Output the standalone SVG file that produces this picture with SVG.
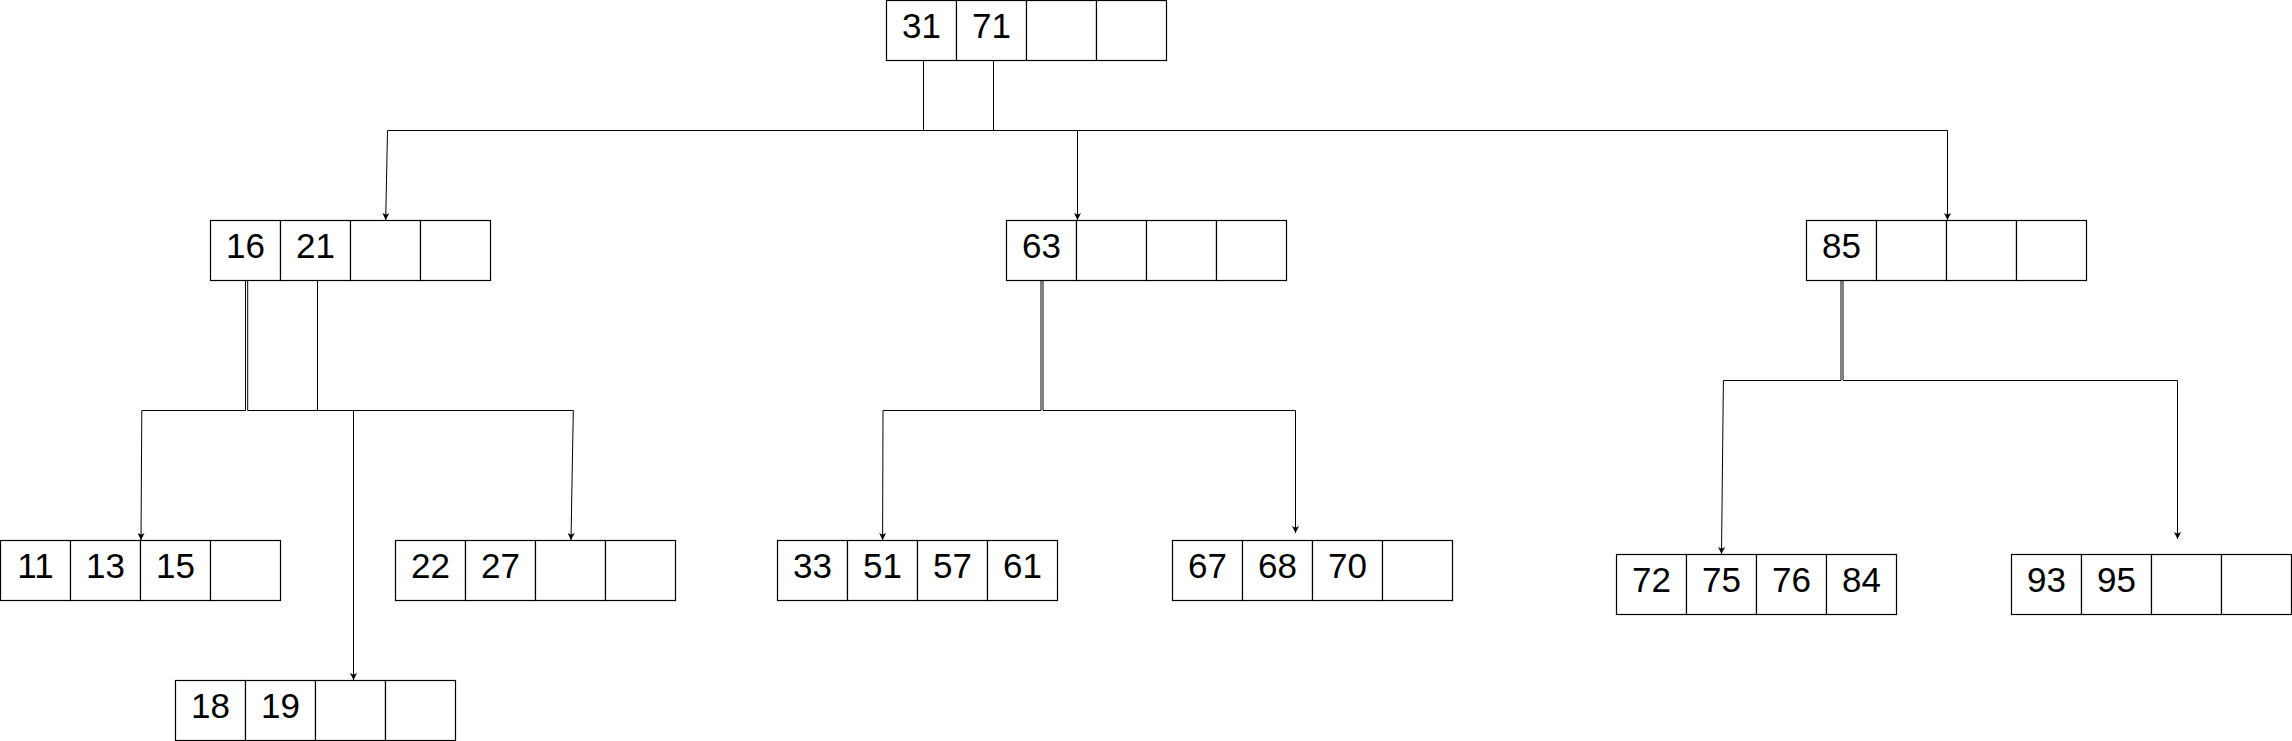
<svg xmlns="http://www.w3.org/2000/svg" width="2292" height="741" viewBox="0 0 2292 741">
<style>
.c{fill:#fff;stroke:#000;stroke-width:1.2}
.t{font-family:"Liberation Sans",Arial,Helvetica,sans-serif;font-size:35px;fill:#000;text-anchor:middle}
.e{fill:none;stroke:#000;stroke-width:1}
.a{marker-end:url(#arr)}
</style>
<defs>
<marker id="arr" viewBox="0 0 10 10" refX="10" refY="5" markerWidth="8" markerHeight="7" markerUnits="userSpaceOnUse" orient="auto">
<path d="M0,0 L10,5 L0,10 L2.5,5 Z" fill="#000"/>
</marker>
<g id="cells">
<rect class="c" x="0" y="0" width="70" height="60"/>
<rect class="c" x="70" y="0" width="70" height="60"/>
<rect class="c" x="140" y="0" width="70" height="60"/>
<rect class="c" x="210" y="0" width="70" height="60"/>
</g>
</defs>
<rect width="2292" height="741" fill="#fff"/>
<g id="connectors">
<path class="e" d="M923.5,60 V130.5 M993.5,60 V130.5 M387.5,130.5 H1947.5"/>
<path class="e a" d="M387.5,130.5 L385.7,220"/>
<path class="e a" d="M1077.5,130.5 V220"/>
<path class="e a" d="M1947.5,130.5 V220"/>
<path class="e a" d="M245.5,280 V410.5 H141.8 L141,540"/>
<path class="e a" d="M247.7,280 V410.5 H353.5 V680"/>
<path class="e a" d="M317.5,280 V410.5 H573.3 L571,540"/>
<path class="e a" d="M1041,280 V410.5 H883 L882.6,540"/>
<path class="e a" d="M1043,280 V410.5 H1295.5 V533"/>
<path class="e a" d="M1841,280 V380.5 H1723.4 L1721.5,554"/>
<path class="e a" d="M1843,280 V380.5 H2177.5 V539"/>
</g>
<g id="root" transform="translate(886.5,0.5)"><use href="#cells"/><text class="t" x="35" y="37.8">31</text><text class="t" x="105" y="37.8">71</text></g>
<g id="n16" transform="translate(210.5,220.5)"><use href="#cells"/><text class="t" x="35" y="37.8">16</text><text class="t" x="105" y="37.8">21</text></g>
<g id="n63" transform="translate(1006.5,220.5)"><use href="#cells"/><text class="t" x="35" y="37.8">63</text></g>
<g id="n85" transform="translate(1806.5,220.5)"><use href="#cells"/><text class="t" x="35" y="37.8">85</text></g>
<g id="n11" transform="translate(0.5,540.5)"><use href="#cells"/><text class="t" x="35" y="37.8">11</text><text class="t" x="105" y="37.8">13</text><text class="t" x="175" y="37.8">15</text></g>
<g id="n22" transform="translate(395.5,540.5)"><use href="#cells"/><text class="t" x="35" y="37.8">22</text><text class="t" x="105" y="37.8">27</text></g>
<g id="n18" transform="translate(175.5,680.5)"><use href="#cells"/><text class="t" x="35" y="37.8">18</text><text class="t" x="105" y="37.8">19</text></g>
<g id="n33" transform="translate(777.5,540.5)"><use href="#cells"/><text class="t" x="35" y="37.8">33</text><text class="t" x="105" y="37.8">51</text><text class="t" x="175" y="37.8">57</text><text class="t" x="245" y="37.8">61</text></g>
<g id="n67" transform="translate(1172.5,540.5)"><use href="#cells"/><text class="t" x="35" y="37.8">67</text><text class="t" x="105" y="37.8">68</text><text class="t" x="175" y="37.8">70</text></g>
<g id="n72" transform="translate(1616.5,554.5)"><use href="#cells"/><text class="t" x="35" y="37.8">72</text><text class="t" x="105" y="37.8">75</text><text class="t" x="175" y="37.8">76</text><text class="t" x="245" y="37.8">84</text></g>
<g id="n93" transform="translate(2011.5,554.5)"><use href="#cells"/><text class="t" x="35" y="37.8">93</text><text class="t" x="105" y="37.8">95</text></g>
</svg>
